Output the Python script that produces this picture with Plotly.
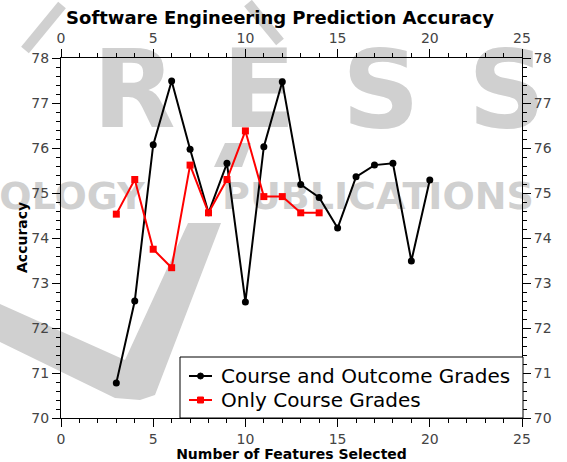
import plotly.graph_objects as go

# Data
features_a = [3, 4, 5, 6, 7, 8, 9, 10, 11, 12, 13, 14, 15, 16, 17, 18, 19, 20]
acc_a = [70.78, 72.60, 76.07, 77.49, 75.97, 74.56, 75.66, 72.58, 76.03, 77.47,
         75.19, 74.90, 74.22, 75.36, 75.62, 75.66, 73.49, 75.29]
features_b = [3, 4, 5, 6, 7, 8, 9, 10, 11, 12, 13, 14]
acc_b = [74.53, 75.30, 73.75, 73.34, 75.62, 74.56, 75.30, 76.38, 74.92, 74.92, 74.56, 74.56]
name_a = "Course and Outcome Grades"
name_b = "Only Course Grades"
x_ticks = [0, 5, 10, 15, 20, 25]
y_ticks = [70, 71, 72, 73, 74, 75, 76, 77, 78]

FONT = "DejaVu Sans"
TICKC = "#444444"
WM = "#d0d0d0"
C_A = "black"
C_B = "#ff0000"

# plot area in pixels (layout helpers for decoration / legend placement)
L, R, T, B = 61, 522, 58, 418
W, H = 567, 462


def px(x, y):
    """pixel -> paper fraction of plot area"""
    return (x - L) / (R - L), (B - y) / (B - T)


def poly(points):
    p = ""
    for i, (a, b) in enumerate(points):
        fx, fy = px(a, b)
        p += ("M" if i == 0 else "L") + f"{fx:.4f},{fy:.4f} "
    return p + "Z"


fig = go.Figure()

# ---- background watermark (decoration) ----
wm_letters = [("P", -12, 100), ("R", 134, 100), ("E", 259, 100), ("S", 381, 100), ("S", 507, 100)]
wm_words = [("OLOGY", 72, 199), ("PUBLICATIONS", 378, 199)]
for txt, cx, cy in wm_letters:
    fx, fy = px(cx, cy)
    fig.add_trace(go.Scatter(x=[fx * 25], y=[70 + fy * 8], mode="text", text=[f"<b>{txt}</b>"],
                             textfont=dict(family=FONT, size=108, color=WM),
                             textposition="middle center",
                             cliponaxis=False, showlegend=False, hoverinfo="skip"))
for txt, cx, cy in wm_words:
    fx, fy = px(cx, cy)
    fig.add_trace(go.Scatter(x=[fx * 25], y=[70 + fy * 8], mode="text", text=[f"<b>{txt}</b>"],
                             textfont=dict(family=FONT, size=38, color=WM),
                             textposition="middle center",
                             cliponaxis=False, showlegend=False, hoverinfo="skip"))

swoosh_low = [(0, 304), (125, 360), (188, 223), (221, 223), (155, 395), (140, 400), (115, 398), (0, 342)]
swoosh_up = [(214, 167), (225, 143), (251, 143), (242, 167)]
shapes = [dict(type="path", path=poly(pts), xref="paper", yref="paper", layer="below",
               fillcolor=WM, line=dict(width=0)) for pts in (swoosh_low, swoosh_up)]
for (x0, y0, x1, y1) in [(25, 50, 62, 5), (248, 3, 280, 42)]:
    a0, b0 = px(x0, y0)
    a1, b1 = px(x1, y1)
    shapes.append(dict(type="line", x0=a0, y0=b0, x1=a1, y1=b1, xref="paper", yref="paper",
                       layer="below", line=dict(color=WM, width=10)))

# ---- data ----
fig.add_trace(go.Scatter(x=features_a, y=acc_a, name=name_a, mode="lines+markers",
                         line=dict(color=C_A, width=2), showlegend=False,
                         marker=dict(symbol="circle", size=7, color=C_A)))
fig.add_trace(go.Scatter(x=features_b, y=acc_b, name=name_b, mode="lines+markers",
                         line=dict(color=C_B, width=2), showlegend=False,
                         marker=dict(symbol="square", size=7, color=C_B)))
fig.add_trace(go.Scatter(x=[None], y=[None], xaxis="x2", yaxis="y2", showlegend=False))

# ---- legend box (drawn as shapes + annotations) ----
annotations = []
bx0, by0 = px(180, 418)
bx1, by1 = px(523, 357)
shapes.append(dict(type="rect", x0=bx0, y0=by0, x1=bx1, y1=by1, xref="paper", yref="paper",
                   layer="above", fillcolor="white", line=dict(color="black", width=1)))
for (nm, col, sym, rowy) in [(name_a, C_A, "circle", 376), (name_b, C_B, "rect", 400)]:
    lx0, ly = px(189, rowy)
    lx1, _ = px(212, rowy)
    shapes.append(dict(type="line", x0=lx0, y0=ly, x1=lx1, y1=ly, xref="paper", yref="paper",
                       layer="above", line=dict(color=col, width=2)))
    mx0, my0 = px(197.5, rowy + 3)
    mx1, my1 = px(203.5, rowy - 3)
    shapes.append(dict(type=sym, x0=mx0, y0=my0, x1=mx1, y1=my1, xref="paper", yref="paper",
                       layer="above", fillcolor=col, line=dict(color=col, width=1)))
    tx, ty = px(219, rowy)
    annotations.append(dict(text=nm, xref="paper", yref="paper", x=tx, y=ty, xanchor="left",
                            yanchor="middle", showarrow=False,
                            font=dict(family=FONT, size=20, color="black")))

ytitle_x, _ = px(22, 0)
annotations.append(dict(text="<b>Accuracy</b>", textangle=-90, xref="paper", yref="paper",
                        x=ytitle_x, y=0.5, xanchor="center", yanchor="middle", showarrow=False,
                        font=dict(family=FONT, size=14, color="black")))

axis_common = dict(showline=True, linecolor="black", linewidth=1, ticks="outside",
                   ticklen=8, tickwidth=1, tickcolor="black", showgrid=False, zeroline=False,
                   automargin=False,
                   tickfont=dict(family=FONT, size=14, color=TICKC))
xminor = dict(dtick=1, ticklen=4, tickcolor="black", ticks="outside")
yminor = dict(dtick=0.2, ticklen=4, tickcolor="black", ticks="outside")

fig.update_layout(
    width=W, height=H,
    margin=dict(l=L, r=W - R, t=T, b=H - B),
    paper_bgcolor="white", plot_bgcolor="rgba(0,0,0,0)",
    shapes=shapes,
    annotations=annotations,
    title=dict(text="<b>Software Engineering Prediction Accuracy</b>", x=0.494, xanchor="center",
               y=1 - 18 / H, yanchor="middle", font=dict(family=FONT, size=18, color="black")),
    xaxis=dict(range=[0, 25], tickvals=x_ticks, minor=xminor,
               title=dict(text="<b>Number of Features Selected</b>",
                          font=dict(family=FONT, size=14, color="black")), **axis_common),
    yaxis=dict(range=[70, 78], tickvals=y_ticks, minor=yminor, **axis_common),
    xaxis2=dict(range=[0, 25], tickvals=x_ticks, overlaying="x", side="top", anchor="y",
                minor=xminor, **axis_common),
    yaxis2=dict(range=[70, 78], tickvals=y_ticks, overlaying="y", side="right", anchor="x",
                minor=yminor, **axis_common),
    showlegend=False,
)

fig.write_html("out.html", config={"displayModeBar": False},
               post_script="document.body.style.margin='0';document.body.style.overflow='hidden';")
